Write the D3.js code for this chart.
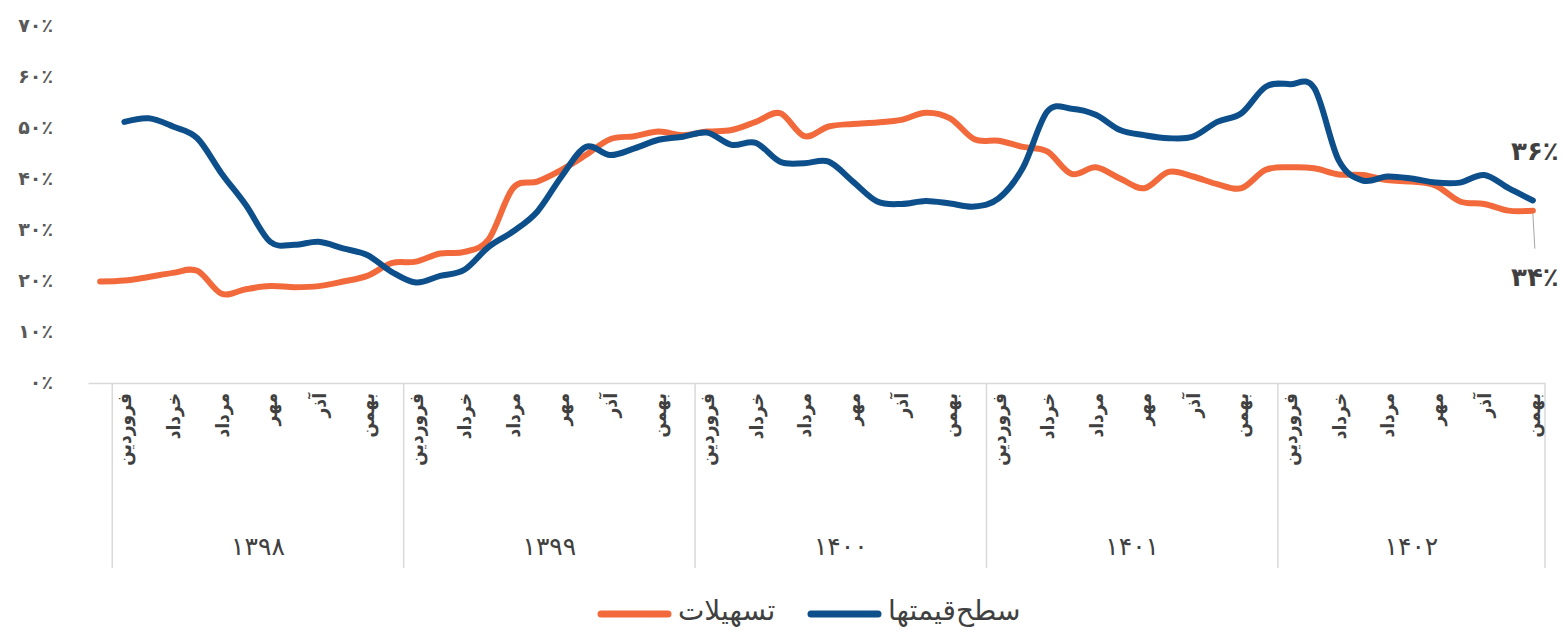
<!DOCTYPE html>
<html><head><meta charset="utf-8">
<script src="https://cdnjs.cloudflare.com/ajax/libs/d3/7.8.5/d3.min.js"></script>
<style>
html,body{margin:0;padding:0;background:#fff;}
svg{display:block;font-family:"DejaVu Sans Condensed","DejaVu Sans",sans-serif;}
</style></head>
<body>
<svg id="c" width="1562" height="630"></svg>
<script>
// ---- data ----
const years = ["۱۳۹۸","۱۳۹۹","۱۴۰۰","۱۴۰۱","۱۴۰۲"];
const monthsPerYear = [12,12,12,12,11];
const monthNames = ["فروردین","اردیبهشت","خرداد","تیر","مرداد","شهریور","مهر","آبان","آذر","دی","بهمن","اسفند"];
const labelledMonths = ["فروردین","خرداد","مرداد","مهر","آذر","بهمن"];
const yTicks = [0,10,20,30,40,50,60,70];
const yTickLabels = ["۰٪","۱۰٪","۲۰٪","۳۰٪","۴۰٪","۵۰٪","۶۰٪","۷۰٪"];
const seriesNames = ["تسهیلات","سطح‌قیمتها"];
// first category is the month before فروردین ۱۳۹۸ (unlabelled)
const facilities = [19.7,
  19.9,20.6,21.4,21.8,17.3,18.2,18.8,18.6,18.8,19.7,20.8,23.3,
  23.6,25.2,25.5,28.0,38.0,39.3,41.6,44.5,47.6,48.2,49.1,48.4,
  49.1,49.4,51.0,52.7,48.2,50.1,50.6,50.9,51.4,52.8,51.7,47.6,
  47.3,46.1,45.2,40.8,42.1,39.9,38.0,41.2,40.3,38.8,38.0,41.6,
  42.1,41.9,40.7,40.6,39.6,39.3,38.5,35.4,34.9,33.6,33.6];
const priceLevel = [null,
  51.0,51.7,50.1,47.8,40.9,34.7,27.5,26.9,27.5,26.2,24.9,21.6,
  19.5,20.8,22.0,26.5,29.5,33.4,40.3,46.1,44.5,45.8,47.5,48.1,
  48.9,46.5,46.9,43.2,42.9,43.2,39.3,35.4,34.9,35.5,35.0,34.4,
  36.0,42.0,53.0,53.6,52.4,49.4,48.4,47.8,48.1,51.0,52.7,57.9,
  58.4,57.6,43.5,39.5,40.3,39.9,39.1,39.1,40.6,38.0,35.6];
const endLabels = ["۳۴٪","۳۶٪"];

// ---- build categories ----
const cats = [{year:null, month:""}];
years.forEach((yr,yi)=>{ for(let m=0;m<monthsPerYear[yi];m++) cats.push({year:yi, month:monthNames[m]}); });

const svg = d3.select("#c");
const x = d3.scaleBand().domain(d3.range(cats.length)).range([88,1545]).paddingInner(0).paddingOuter(0);
const y = d3.scaleLinear().domain([0,70]).range([382,25]);
const cx = i => x(i) + x.bandwidth()/2;
const colors = ["#f26a3b","#0d4f8b"];
const textColor = "#404040";

// y axis labels
const yAxis = d3.axisLeft(y).tickValues(yTicks).tickSize(0).tickPadding(0)
  .tickFormat((d,i)=>yTickLabels[i]);
const gy = svg.append("g").attr("transform","translate(53,0)").call(yAxis);
gy.select(".domain").remove();
gy.selectAll("text").attr("font-family","DejaVu Sans").attr("font-size",19)
  .attr("font-weight","bold").attr("fill","#595959").attr("dy","0.32em");

// x axis line
const xAxis = d3.axisBottom(x).tickValues([]).tickSizeOuter(0);
const gx = svg.append("g").attr("transform","translate(0,383)").call(xAxis);
gx.select(".domain").attr("stroke","#d9d9d9").attr("stroke-width",1.5);

// year separators
let idx = 1;
const sepX = [];
const yearCenters = [];
years.forEach((yr,yi)=>{
  const start = x(idx);
  const end = x(idx+monthsPerYear[yi]-1) + x.bandwidth();
  sepX.push(start);
  yearCenters.push((start+end)/2);
  idx += monthsPerYear[yi];
  if(yi===years.length-1) sepX.push(end);
});
svg.append("g").selectAll("line").data(sepX).join("line")
  .attr("x1",d=>d).attr("x2",d=>d).attr("y1",383).attr("y2",568)
  .attr("stroke","#d9d9d9").attr("stroke-width",1.5);

// month labels
svg.append("g").selectAll("text")
  .data(cats.map((c,i)=>({c,i})).filter(d=>labelledMonths.includes(d.c.month)))
  .join("text")
  .attr("transform",d=>`translate(${cx(d.i)},393) rotate(-90)`)
  .attr("text-anchor","end").attr("dominant-baseline","central")
  .attr("font-size",19).attr("font-weight","bold").attr("fill",textColor)
  .text(d=>d.c.month);

// year labels
svg.append("g").selectAll("text").data(years).join("text")
  .attr("x",(d,i)=>yearCenters[i]).attr("y",546).attr("text-anchor","middle")
  .attr("dominant-baseline","central").attr("font-family","DejaVu Sans")
  .attr("font-size",25).attr("fill",textColor)
  .text(d=>d);

// lines
const line = d3.line().defined(d=>d!=null).x((d,i)=>cx(i)).y(d=>y(d))
  .curve(d3.curveCardinal.tension(0));
[facilities, priceLevel].forEach((s,k)=>{
  svg.append("path").datum(s).attr("d",line).attr("fill","none")
    .attr("stroke",colors[k]).attr("stroke-width",6)
    .attr("stroke-linecap","round").attr("stroke-linejoin","round");
});

// end labels
const last = cats.length-1;
svg.append("line").attr("x1",cx(last)).attr("x2",cx(last)+2)
  .attr("y1",y(facilities[last])+3).attr("y2",y(facilities[last])+38)
  .attr("stroke","#a6a6a6").attr("stroke-width",1);
svg.append("text").attr("x",cx(last)+2).attr("y",y(facilities[last])+66)
  .attr("text-anchor","middle").attr("dominant-baseline","central")
  .attr("font-family","DejaVu Sans").attr("font-weight","bold")
  .attr("font-size",26).attr("fill",textColor).text(endLabels[0]);
svg.append("text").attr("x",cx(last)+2).attr("y",y(priceLevel[last])-49)
  .attr("text-anchor","middle").attr("dominant-baseline","central")
  .attr("font-family","DejaVu Sans").attr("font-weight","bold")
  .attr("font-size",26).attr("fill",textColor).text(endLabels[1]);

// legend
const legend = [{x:598, name:seriesNames[0], c:colors[0]},{x:808, name:seriesNames[1], c:colors[1]}];
const lg = svg.append("g");
legend.forEach(l=>{
  lg.append("line").attr("x1",l.x+3).attr("x2",l.x+70).attr("y1",614).attr("y2",614)
    .attr("stroke",l.c).attr("stroke-width",7).attr("stroke-linecap","round");
  lg.append("text").attr("x",l.x+80).attr("y",610).attr("dominant-baseline","central")
    .attr("font-family","DejaVu Sans")
    .attr("font-size",28).attr("fill",textColor).text(l.name);
});
</script>
</body></html>
